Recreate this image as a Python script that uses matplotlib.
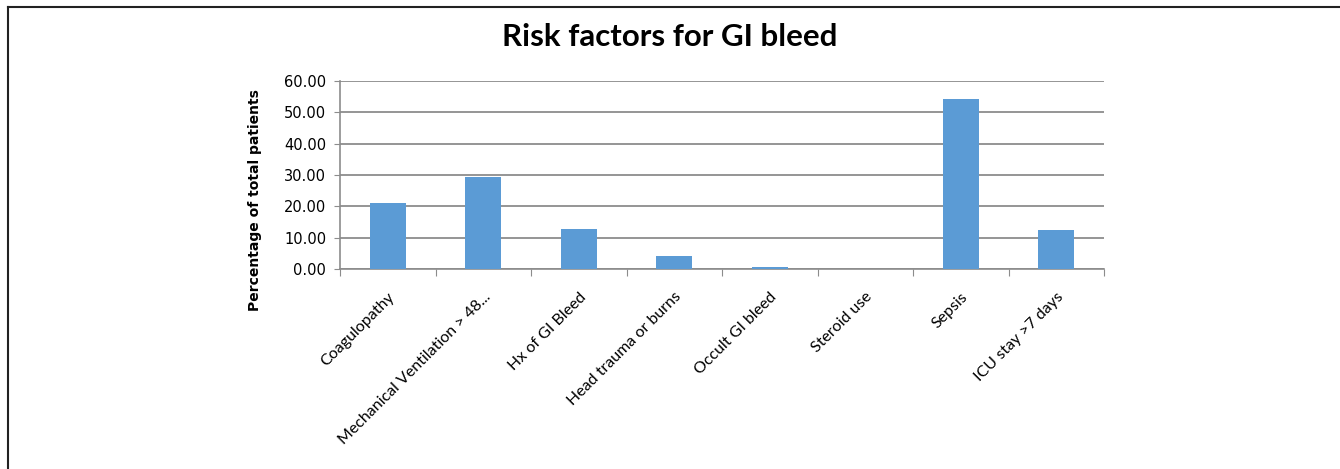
import matplotlib
matplotlib.use("Agg")
import matplotlib.pyplot as plt
import numpy as np
from matplotlib.lines import Line2D

categories = ["Coagulopathy", "Mechanical Ventilation > 48...", "Hx of GI Bleed",
              "Head trauma or burns", "Occult GI bleed", "Steroid use", "Sepsis",
              "ICU stay >7 days"]
values = [21.2, 29.3, 12.9, 4.0, 0.7, 0.0, 54.3, 12.4]
yticks = [0, 10, 20, 30, 40, 50, 60]

fig = plt.figure(figsize=(13.4, 4.69), dpi=100)
ax = fig.add_axes([340/1340, 1-269/469, (1104-340)/1340, (269-81)/469])

x = np.arange(len(categories))
ax.bar(x, values, width=0.38, color="#5B9BD5", zorder=3)
ax.set_xlim(-0.5, len(categories)-0.5)
ax.set_ylim(0, 60)
ax.set_yticks(yticks)
ax.set_yticklabels([f"{v:.2f}" for v in yticks], fontsize=10.5, family="DejaVu Sans")
ax.yaxis.grid(True, color="#8c8c8c", linewidth=1.3, zorder=0)
ax.set_axisbelow(True)

ax.set_xticks(np.arange(-0.5, len(categories)), minor=False)
ax.set_xticklabels([])
ax.set_xticks(x, minor=True)
ax.set_xticklabels(categories, minor=True, rotation=45, ha="right",
                   rotation_mode="anchor", fontsize=11.5, family="Lato")
ax.tick_params(axis="x", which="minor", length=0, pad=15)
ax.tick_params(axis="x", which="major", length=5, color="#8c8c8c", direction="out")
ax.tick_params(axis="y", length=4, color="#8c8c8c", pad=6)

for s in ["top", "right"]:
    ax.spines[s].set_visible(False)
for s in ["left", "bottom"]:
    ax.spines[s].set_color("#8c8c8c")
    ax.spines[s].set_linewidth(1.2)

fig.text(255/1340, 1-200/469, "Percentage of total patients", rotation=90,
         ha="center", va="center", fontsize=10, fontweight="bold", family="DejaVu Sans")

fig.text(670/1340, 1-37/469, "Risk factors for GI bleed", ha="center", va="center",
         fontsize=22.5, fontweight="bold", family="Lato")

# image frame lines (left and top)
fig.add_artist(Line2D([8/1340, 8/1340], [0, 1-7/469], transform=fig.transFigure,
                      color="#222222", linewidth=1.5))
fig.add_artist(Line2D([8/1340, 1], [1-7/469, 1-7/469], transform=fig.transFigure,
                      color="#222222", linewidth=1.5))

fig.savefig("out.png", dpi=100)
